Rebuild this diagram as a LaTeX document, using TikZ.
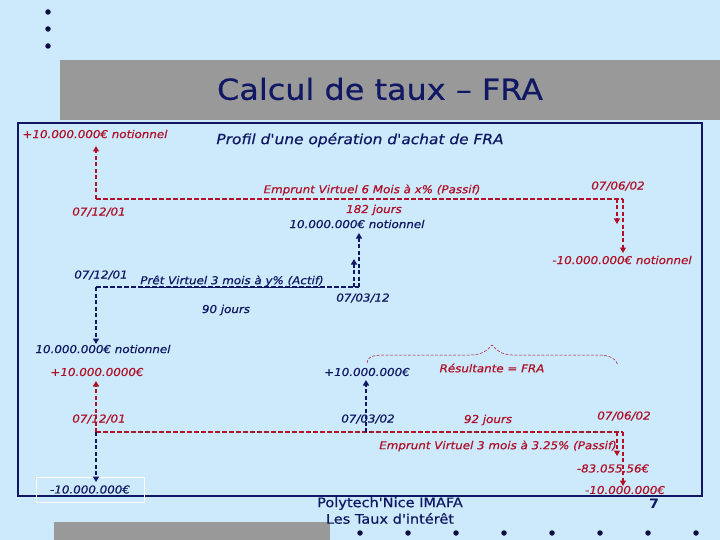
\documentclass[tikz,border=0pt]{standalone}
\usepackage{fontspec}
\setmainfont[FakeStretch=1.1]{DejaVu Sans}
\newfontfamily\lblfont[FakeStretch=1.1,FakeBold=0.6]{DejaVu Sans}
\usetikzlibrary{arrows.meta}
\definecolor{bgblue}{RGB}{204,234,252}
\definecolor{navy}{RGB}{16,24,100}
\definecolor{dred}{RGB}{176,16,40}
\definecolor{bandgray}{RGB}{153,153,153}
\tikzset{
  lbl/.style={inner sep=1pt, font=\lblfont\fontsize{10.8}{12}\selectfont\itshape},
  rlbl/.style={lbl, text=dred},
  blbl/.style={lbl, text=navy},
  hline/.style={dashed, dash pattern=on 4.5pt off 2.5pt, line width=1.1pt},
  varrow/.style={dash pattern=on 4pt off 2.5pt, line width=2.4pt, -{Triangle[length=5.5pt,width=6pt]}},
  dotc/.style={circle, fill=navy!60!black, inner sep=0pt, minimum size=5.5pt},
}
\begin{document}
\begin{tikzpicture}[x=1pt,y=-1pt]
\useasboundingbox (0,0) rectangle (720,540);
\fill[bgblue] (0,0) rectangle (720,540);
% top dots
\foreach \yy [count=\i] in {12,29,46} \node[dotc] (td\i) at (48,\yy) {};
% title band
\fill[bandgray] (60,60) rectangle (720,120);
\node[text=navy, font=\lblfont\fontsize{29}{34}\selectfont] (title) at (380,89) {Calcul de taux – FRA};
% frame
\draw[navy, line width=1.2pt] (18,123) rectangle (702,496);
% bottom band and dots
\fill[bandgray] (54,522) rectangle (330,540);
\foreach \xx [count=\i] in {360,408,456,504,552,600,648,696} \node[dotc] (bd\i) at (\xx,533) {};
\node[text=navy, font=\lblfont\fontsize{13.2}{16.5}\selectfont, align=center] (foot) at (390,510.5) {Polytech'Nice IMAFA\\Les Taux d'intérêt};
\node[text=navy, font=\fontsize{13}{15}\selectfont\bfseries] (pg) at (654,504) {7};

% labels
\node[rlbl] (n1) at (95,134) {+10.000.000€ notionnel};
\node[text=navy, font=\lblfont\fontsize{14}{16}\selectfont\itshape] (prof) at (360,140) {Profil d'une opération d'achat de FRA};
\node[rlbl] (d1) at (99,212) {07/12/01};
\node[rlbl] (emp6) at (372,190) {Emprunt Virtuel 6 Mois à x\% (Passif)};
\node[rlbl] (d2) at (618,186) {07/06/02};
\node[rlbl] (j182) at (374,210) {182 jours};
\node[blbl] (n2) at (357,224) {10.000.000€ notionnel};
\node[rlbl] (n3) at (622,260) {-10.000.000€ notionnel};
\node[blbl] (d3) at (101,275) {07/12/01};
\node[blbl] (pret) at (232,281) {Prêt Virtuel 3 mois à y\% (Actif)};
\node[blbl] (d4) at (363,298) {07/03/12};
\node[blbl] (j90) at (226,310) {90 jours};
\node[blbl] (n4) at (103,349) {10.000.000€ notionnel};
\node[rlbl] (n5) at (97,372) {+10.000.0000€};
\node[blbl] (n6) at (367,372) {+10.000.000€};
\node[rlbl] (res) at (492,368) {Résultante = FRA};
\node[rlbl] (d5) at (99,419) {07/12/01};
\node[blbl] (d6) at (368,419) {07/03/02};
\node[rlbl] (j92) at (488,420) {92 jours};
\node[rlbl] (d7) at (624,416) {07/06/02};
\node[rlbl] (emp3) at (498,446) {Emprunt Virtuel 3 mois à 3.25\% (Passif)};
\node[rlbl] (n7) at (613,469) {-83.055,56€};
\node[rlbl] (n8) at (625,490) {-10.000.000€};
\node[blbl, draw=white, line width=0.6pt, minimum width=108pt, minimum height=25pt] (n9) at (90,489.5) {-10.000.000€};

% coordinates
\coordinate (a0) at (96,199);
\coordinate (a1) at (96,146);
\coordinate (a2) at (623,199);
\coordinate (a3) at (617,199);
\coordinate (a4) at (617,224);
\coordinate (a5) at (623,253);
\coordinate (b0) at (96,287);
\coordinate (b1) at (359,287);
\coordinate (b2) at (359,233);
\coordinate (b3) at (354,287);
\coordinate (b4) at (354,259);
\coordinate (b5) at (96,344);
\coordinate (c0) at (96,432);
\coordinate (c1) at (96,381);
\coordinate (c2) at (623,432);
\coordinate (c3) at (617,432);
\coordinate (c4) at (617,456);
\coordinate (c5) at (623,486);
\coordinate (e0) at (96,482);
\coordinate (e1) at (366,432);
\coordinate (e2) at (366,380);

% red top profile
\draw[dred, hline] (a0) -- (a2);
\draw[dred, varrow] (a0) -- (a1);
\draw[dred, varrow] (a3) -- (a4);
\draw[dred, varrow] (a2) -- (a5);
% navy profile
\draw[navy, hline] (b0) -- (b1);
\draw[navy, line width=0.8pt] (pret.south west) -- (pret.south east);
\draw[navy, varrow] (b1) -- (b2);
\draw[navy, varrow] (b3) -- (b4);
\draw[navy, varrow] (b0) -- (b5);
% bottom red profile
\draw[dred, hline] (c0) -- (c2);
\draw[dred, varrow] (c0) -- (c1);
\draw[dred, varrow] (c3) -- (c4);
\draw[dred, varrow] (c2) -- (c5);
% bottom navy
\draw[navy, varrow] (c0) -- (e0);
\draw[navy, varrow] (e1) -- (e2);
% brace
\draw[dred, dashed, dash pattern=on 3pt off 1.5pt, line width=0.5pt]
  (367,363) .. controls (367,357) and (372,355) .. (385,355) -- (470,355)
  .. controls (482,355) and (488,350) .. (492,345)
  .. controls (496,350) and (502,355) .. (512,355) -- (598,355)
  .. controls (610,355) and (616,359) .. (618,365);
\end{tikzpicture}
\end{document}
